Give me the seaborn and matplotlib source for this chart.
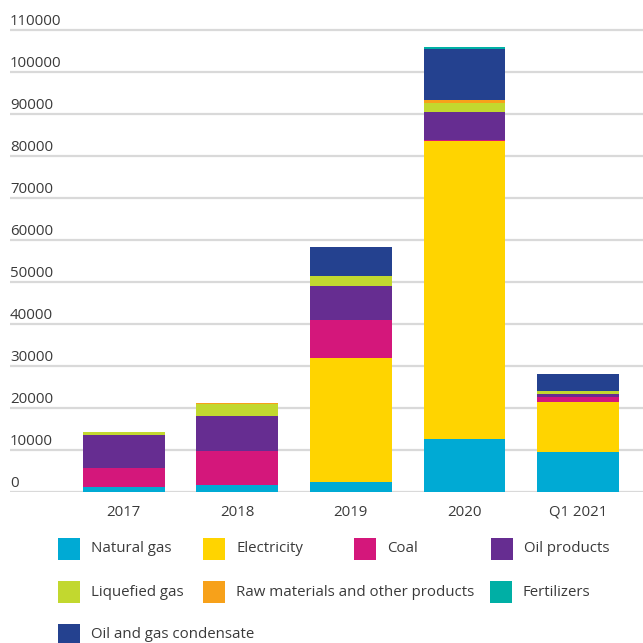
import numpy as np
import pandas as pd
import matplotlib
matplotlib.use("Agg")
import matplotlib.pyplot as plt
from matplotlib.patches import Rectangle
import seaborn as sns

periods = ["2017", "2018", "2019", "2020", "Q1 2021"]

natural_gas = [1200, 1700, 2400, 12600, 9500]
electricity = [0, 0, 29500, 70900, 11900]
coal = [4500, 8100, 9050, 400, 1200]
oil_products = [7900, 8300, 8100, 6600, 700]
liquefied_gas = [700, 2900, 2400, 2200, 700]
raw_materials = [0, 200, 0, 500, 0]
fertilizers = [0, 0, 0, 500, 0]
condensate = [0, 0, 6900, 12300, 4050]

series_names = ["Natural gas", "Electricity", "Coal", "Oil products",
                "Liquefied gas", "Raw materials and other products",
                "Fertilizers", "Oil and gas condensate"]
series_values = [natural_gas, electricity, coal, oil_products,
                 liquefied_gas, raw_materials, fertilizers, condensate]
colors = ["#00AAD4", "#FFD400", "#D4177B", "#662D91",
          "#C2D82F", "#F7A11A", "#00AFA5", "#24418F"]
# bottom-to-top order of the stack
stack_order = ["Natural gas", "Electricity", "Coal", "Oil products",
               "Liquefied gas", "Raw materials and other products",
               "Oil and gas condensate", "Fertilizers"]

y_ticks = list(range(0, 110001, 10000))

sns.set_style("white")
plt.rcParams["font.family"] = ["Open Sans", "DejaVu Sans"]
text_color = "#3a3a3a"
color_of = dict(zip(series_names, colors))

fig = plt.figure(figsize=(6.43, 6.43), dpi=100)
W = H = 643.0
ax = fig.add_axes([10 / W, (H - 492) / H, 633 / W, (492 - 24) / H])

df = pd.DataFrame(dict(zip(series_names, series_values)), index=periods)
cum = df[stack_order].cumsum(axis=1)

# stacked bars: draw cumulative totals from the top layer down
for name in reversed(stack_order):
    sns.barplot(x=periods, y=cum[name].values, color=color_of[name], saturation=1,
                width=0.72, linewidth=0, ax=ax, zorder=3)

ax.set_xlim(-1.0, 4.57)
ax.set_ylim(0, 111400)
ax.set_yticks(y_ticks)
ax.set_yticklabels([])
ax.tick_params(axis="y", length=0)
ax.tick_params(axis="x", length=0, pad=9, labelsize=10.8, labelcolor=text_color)
ax.grid(axis="y", color="#d9d9d9", linewidth=1.6, zorder=0)
ax.set_axisbelow(True)
for s in ax.spines.values():
    s.set_visible(False)
ax.set_xlabel("")
ax.set_ylabel("")

for v in y_ticks:
    ax.annotate(str(v), xy=(0, v), xycoords=ax.get_yaxis_transform(),
                xytext=(0, 0.5), textcoords="offset points",
                ha="left", va="bottom", fontsize=10.8, color=text_color)

# legend laid out in rows like the original
legend_pos = [(58, 549), (203, 549), (354, 549), (491, 549),
              (58, 592), (203, 592), (490, 592),
              (58, 635)]
sq = 22
for (px, py), name, color in zip(legend_pos, series_names, colors):
    fig.patches.append(Rectangle((px / W, (H - py - sq / 2) / H), sq / W, sq / H,
                                 transform=fig.transFigure, facecolor=color,
                                 edgecolor="none"))
    fig.text((px + 33) / W, (H - py) / H, name, ha="left", va="center",
             fontsize=10.8, color=text_color)

fig.savefig("out.png", dpi=100)
